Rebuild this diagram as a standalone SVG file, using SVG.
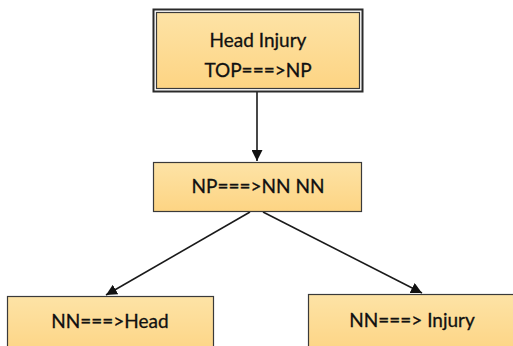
<svg xmlns="http://www.w3.org/2000/svg" width="513" height="346" viewBox="0 0 513 346">
<style>
.box{fill:url(#g);stroke:#3a3a3a;stroke-width:1.2}
.t{font-family:Lato,"Liberation Sans",sans-serif;font-size:19px;fill:#111;text-anchor:middle;stroke:#111;stroke-width:0.3}
.c{stroke:#1a1a1a;stroke-width:1.6;fill:none;marker-end:url(#a)}
</style>
<defs>
<linearGradient id="g" x1="0" y1="0" x2="0" y2="1">
<stop offset="0" stop-color="#fde3a6"/>
<stop offset="1" stop-color="#fdd483"/>
</linearGradient>
<marker id="a" viewBox="0 0 10 10" refX="10" refY="5" markerWidth="11" markerHeight="11" markerUnits="userSpaceOnUse" orient="auto">
<path d="M0,0 L10,5 L0,10 z" fill="#111"/>
</marker>
</defs>
<rect width="513" height="346" fill="#fff"/>
<g id="connectors">
<line class="c" x1="257" y1="92" x2="257" y2="161"/>
<line class="c" x1="250" y1="212" x2="106" y2="295"/>
<line class="c" x1="263" y1="212" x2="422" y2="293"/>
</g>
<g id="n1">
<rect x="153.5" y="9.5" width="209" height="82" fill="none" stroke="#2a2a2a" stroke-width="2"/>
<rect x="156.5" y="12.5" width="203" height="76" class="box"/>
<text class="t" x="258" y="47">Head Injury</text>
<text class="t" x="258" y="77">TOP===&gt;NP</text>
</g>
<g id="n2">
<rect x="153.5" y="162.5" width="208" height="49" class="box"/>
<text class="t" x="258" y="193">NP===&gt;NN NN</text>
</g>
<g id="n3">
<rect x="7.5" y="296.5" width="206" height="60" class="box"/>
<text class="t" x="110" y="328">NN===&gt;Head</text>
</g>
<g id="n4">
<rect x="308.5" y="294.5" width="215" height="60" class="box"/>
<text class="t" x="412" y="327">NN===&gt; Injury</text>
</g>
</svg>
